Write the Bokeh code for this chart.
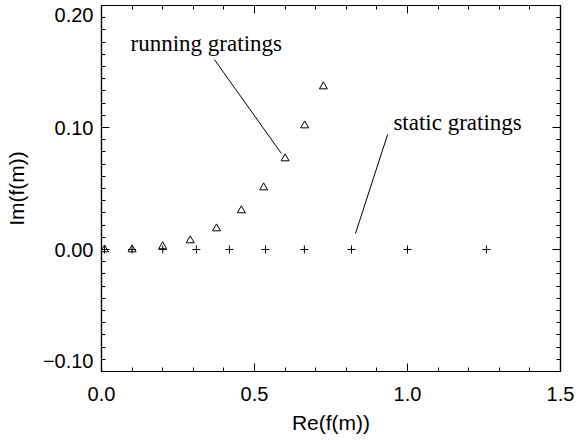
from bokeh.plotting import figure
from bokeh.models import (LinearAxis, SingleIntervalTicker, FixedTicker, CustomJSTickFormatter,
                          Range1d, ColumnDataSource)
from bokeh.core.properties import value
from bokeh.embed import file_html
from bokeh.resources import INLINE

# running gratings (triangles)
run_re = [0.01, 0.10, 0.20, 0.29, 0.376, 0.457, 0.53, 0.60, 0.664, 0.725]
run_im = [0.0, 0.0, 0.0025, 0.0074, 0.0172, 0.032, 0.0508, 0.0746, 0.1016, 0.1336]

# static gratings (plus signs)
sta_re = [0.01, 0.10, 0.20, 0.31, 0.418, 0.536, 0.663, 0.817, 1.0, 1.258]
sta_im = [0.0, 0.0, 0.0, 0.0, 0.0, 0.0, 0.0, 0.0, 0.0, 0.0]

# annotations
ann_text = ["running gratings", "static gratings"]
ann_x = [0.095, 0.954]
ann_y = [0.169, 0.104]
ptr_x0 = [0.369, 0.935]
ptr_y0 = [0.1557, 0.0943]
ptr_x1 = [0.588, 0.830]
ptr_y1 = [0.0787, 0.0131]

p = figure(width=582, height=440, output_backend="svg", toolbar_location=None,
           x_range=Range1d(0.0, 1.5), y_range=Range1d(-0.10, 0.20),
           x_axis_type=None, y_axis_type=None,
           min_border_left=101, min_border_right=22, min_border_top=5,
           min_border_bottom=69)
p.background_fill_color = "white"
p.border_fill_color = "white"
p.outline_line_color = "black"
p.outline_line_width = 1.2
p.grid.visible = False

blank = CustomJSTickFormatter(code="return '';")
xfmt = CustomJSTickFormatter(code="var t = Math.abs(tick) < 1e-9 ? 0 : tick; return t.toFixed(1).replace('-', '\u2212');")
yfmt = CustomJSTickFormatter(code="var t = Math.round(tick * 10) / 10; if (Math.abs(t) < 1e-9) t = 0; return t.toFixed(2).replace('-', '\u2212');")

def style(ax):
    ax.axis_line_color = "black"
    ax.axis_line_width = 1.2
    ax.major_tick_in = 8
    ax.major_tick_out = 0
    ax.minor_tick_in = 4
    ax.minor_tick_out = 0
    ax.major_tick_line_color = "black"
    ax.minor_tick_line_color = "black"
    ax.major_label_text_font = "Liberation Sans"
    ax.major_label_text_font_size = "20px"
    ax.major_label_text_color = "black"
    ax.axis_label_text_font = "Liberation Sans"
    ax.axis_label_text_font_size = "21px"
    ax.axis_label_text_font_style = "normal"
    ax.axis_label_text_color = "black"

# bottom axis with labels
bottom = LinearAxis(ticker=SingleIntervalTicker(interval=0.5, num_minor_ticks=5),
                    formatter=xfmt, axis_label="Re(f(m))")
style(bottom)
bottom.major_label_standoff = 15
bottom.axis_label_standoff = 7
p.add_layout(bottom, "below")

# left axis: tick marks only
left_ticks = LinearAxis(ticker=SingleIntervalTicker(interval=0.1, num_minor_ticks=10),
                        formatter=blank)
style(left_ticks)
left_ticks.major_label_standoff = 0
p.add_layout(left_ticks, "left")

# left axis: labels (edge labels placed inside the frame as in the original)
left_labels = LinearAxis(ticker=FixedTicker(ticks=[-0.091, 0.0, 0.1, 0.192], minor_ticks=[]),
                         formatter=yfmt, axis_label="Im(f(m))")
style(left_labels)
left_labels.axis_line_color = None
left_labels.major_tick_in = 0
left_labels.minor_tick_in = 0
left_labels.major_tick_line_color = None
left_labels.minor_tick_line_color = None
left_labels.major_label_standoff = 8
left_labels.axis_label_standoff = 12
p.add_layout(left_labels, "left")

# mirrored tick axes
top = LinearAxis(ticker=SingleIntervalTicker(interval=0.5, num_minor_ticks=5), formatter=blank)
right = LinearAxis(ticker=SingleIntervalTicker(interval=0.1, num_minor_ticks=10), formatter=blank)
style(top)
style(right)
top.major_label_standoff = 0
right.major_label_standoff = 0
p.add_layout(top, "above")
p.add_layout(right, "right")

run_src = ColumnDataSource(dict(x=run_re, y=run_im))
sta_src = ColumnDataSource(dict(x=sta_re, y=sta_im))
p.scatter("x", "y", source=sta_src, marker="cross", size=8, line_color="black", line_width=1)
p.scatter("x", "y", source=run_src, marker="triangle", size=8, fill_color=None,
          line_color="black", line_width=1)

seg_src = ColumnDataSource(dict(x0=ptr_x0, y0=ptr_y0, x1=ptr_x1, y1=ptr_y1))
p.segment("x0", "y0", "x1", "y1", source=seg_src, line_color="black", line_width=1)

txt_src = ColumnDataSource(dict(x=ann_x, y=ann_y, t=ann_text))
p.text("x", "y", text="t", source=txt_src, text_font=value("Liberation Serif"),
       text_font_size="23px", text_color="black", text_baseline="alphabetic",
       text_align="left")

open("out.html", "w").write(file_html(p, INLINE))
